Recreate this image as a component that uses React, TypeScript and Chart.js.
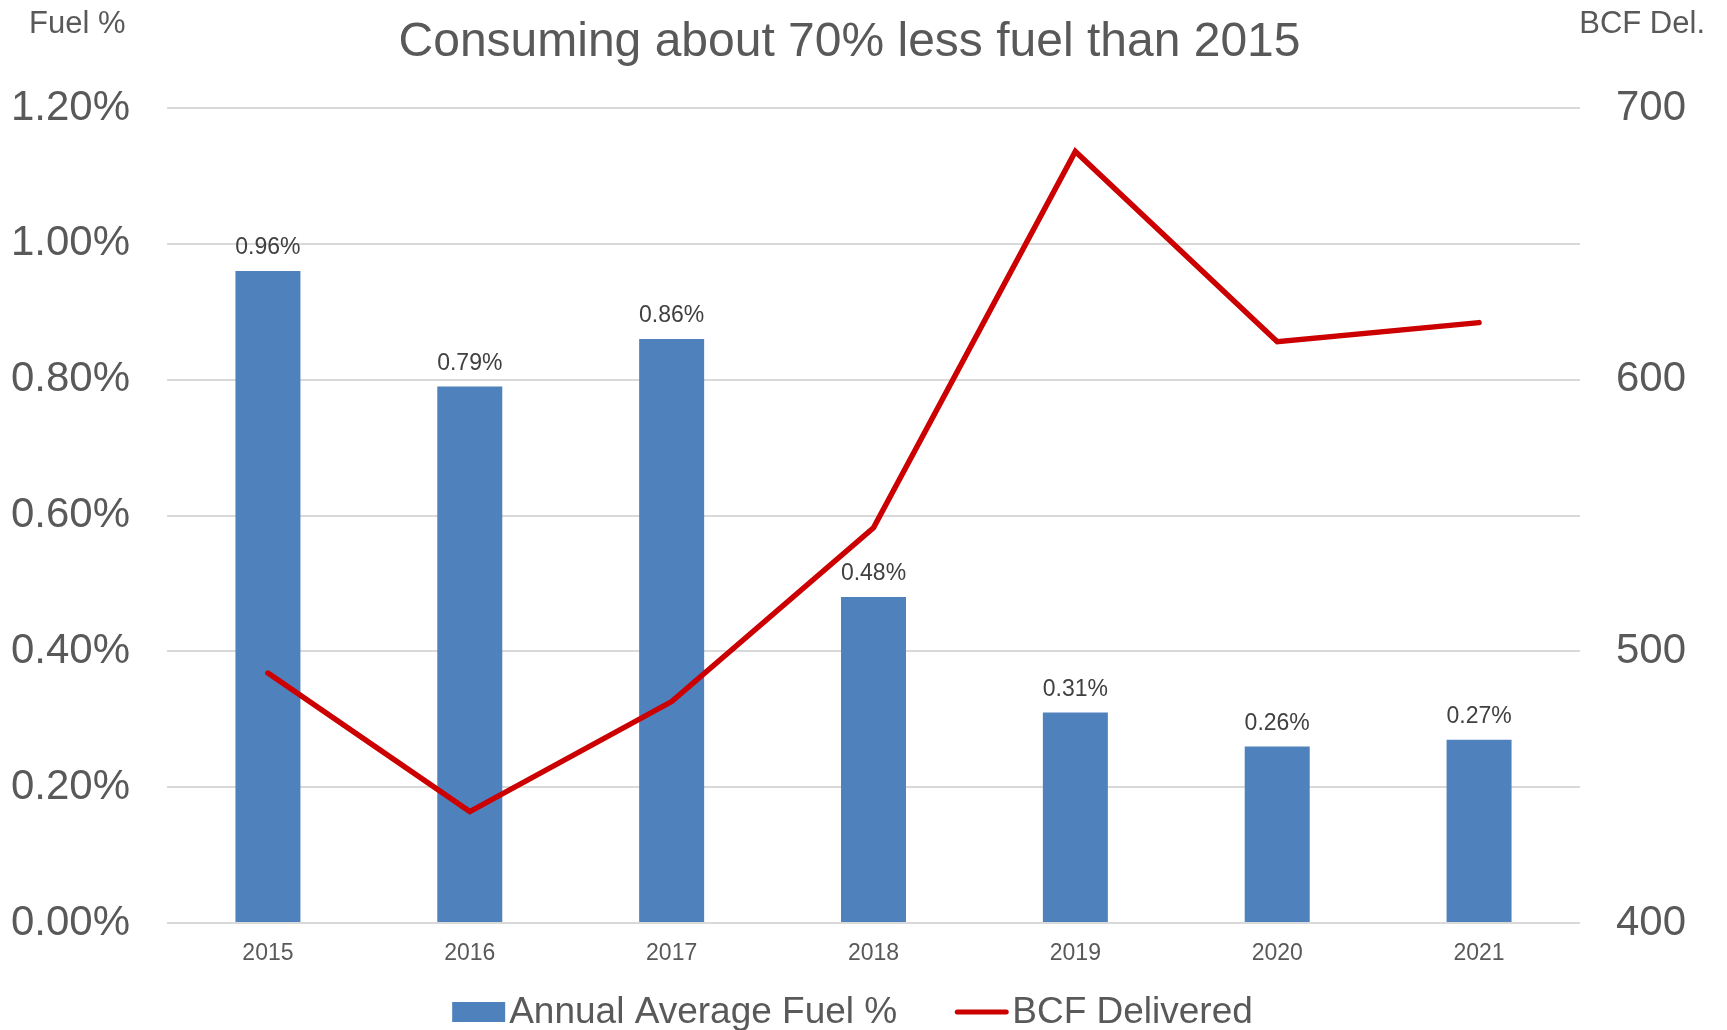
import React, { useEffect, useRef } from 'react';
import { Chart, registerables } from 'chart.js';

Chart.register(...registerables);

// ---- data ----
const years: string[] = ['2015', '2016', '2017', '2018', '2019', '2020', '2021'];
const fuelPct: number[] = [0.96, 0.79, 0.86, 0.48, 0.31, 0.26, 0.27];
const bcfDelivered: number[] = [492, 441, 481.5, 545.5, 684, 614, 621];

const fuelAxisMin = 0;
const fuelAxisMax = 1.2;
const fuelAxisStep = 0.2;
const bcfAxisMin = 400;
const bcfAxisMax = 700;
const bcfAxisStep = 100;

const titleText = 'Consuming about 70% less fuel than 2015';
const leftAxisTitle = 'Fuel %';
const rightAxisTitle = 'BCF Del.';
const barLabel = 'Annual Average Fuel %';
const lineLabel = 'BCF Delivered';

// ---- styles ----
const FONT = '"Liberation Sans", Arial, Helvetica, sans-serif';
const TEXT = '#595959';
const GRID = '#d9d9d9';
const BAR = '#4f81bd';
const LINE = '#cc0000';

const W = 1727;
const H = 1030;

const decorPlugin = {
  id: 'decor',
  afterDatasetsDraw(chart: any) {
    const { ctx } = chart;
    // data labels above bars
    const meta = chart.getDatasetMeta(0);
    ctx.save();
    ctx.font = `23px ${FONT}`;
    ctx.fillStyle = '#404040';
    ctx.textAlign = 'center';
    ctx.textBaseline = 'middle';
    meta.data.forEach((el: any, i: number) => {
      ctx.fillText(`${fuelPct[i].toFixed(2)}%`, el.x, el.y - 23);
    });
    ctx.restore();
  },
  afterDraw(chart: any) {
    const { ctx, chartArea } = chart;
    const cx = (chartArea.left + chartArea.right) / 2;
    ctx.save();
    // title
    ctx.fillStyle = TEXT;
    ctx.font = `48px ${FONT}`;
    ctx.textAlign = 'center';
    ctx.textBaseline = 'middle';
    ctx.fillText(titleText, cx - 24, 43);
    // axis titles
    ctx.font = `31px ${FONT}`;
    ctx.textAlign = 'left';
    ctx.fillText(leftAxisTitle, 29, 24);
    ctx.textAlign = 'right';
    ctx.fillText(rightAxisTitle, chart.width - 22, 24);

    // legend
    ctx.font = `37px ${FONT}`;
    const boxW = 53;
    const gapBox = 4;
    const gapItems = 58;
    const t1 = ctx.measureText(barLabel).width;
    const t2 = ctx.measureText(lineLabel).width;
    const total = boxW + gapBox + t1 + gapItems + boxW + 4 + t2;
    const lcx = cx - 21;
    let x = lcx - total / 2;
    const ly = 1012;
    ctx.fillStyle = BAR;
    ctx.fillRect(x, ly - 10, boxW, 20);
    x += boxW + gapBox;
    ctx.fillStyle = TEXT;
    ctx.textAlign = 'left';
    ctx.textBaseline = 'middle';
    ctx.fillText(barLabel, x, ly + 1);
    x += t1 + gapItems;
    ctx.strokeStyle = LINE;
    ctx.lineWidth = 5;
    ctx.lineCap = 'round';
    ctx.beginPath();
    ctx.moveTo(x + 2, ly);
    ctx.lineTo(x + boxW - 2, ly);
    ctx.stroke();
    x += boxW + 4;
    ctx.fillText(lineLabel, x, ly + 1);
    ctx.restore();
  },
};

export default function App() {
  const canvasRef = useRef<HTMLCanvasElement | null>(null);

  useEffect(() => {
    document.body.style.margin = '0';
    document.body.style.overflow = 'hidden';
    const canvas = canvasRef.current;
    if (!canvas) return;
    const chart = new Chart(canvas, {
      type: 'bar',
      data: {
        labels: years,
        datasets: [
          {
            type: 'bar',
            label: barLabel,
            data: fuelPct,
            backgroundColor: BAR,
            yAxisID: 'y',
            categoryPercentage: 1,
            barPercentage: 0.322,
            order: 1,
          },
          {
            type: 'line',
            label: lineLabel,
            data: bcfDelivered,
            borderColor: LINE,
            backgroundColor: LINE,
            borderWidth: 5.5,
            pointRadius: 0,
            tension: 0,
            borderJoinStyle: 'miter',
            borderCapStyle: 'round',
            yAxisID: 'y1',
            order: 0,
          } as any,
        ],
      },
      options: {
        responsive: false,
        animation: false,
        devicePixelRatio: 1,
        layout: { padding: { top: 108, left: 0, right: 0, bottom: 0 } },
        plugins: {
          legend: { display: false },
          title: { display: false },
          tooltip: { enabled: false },
        },
        scales: {
          x: {
            grid: { display: false, drawTicks: false },
            border: { display: false },
            ticks: {
              color: TEXT,
              font: { family: FONT, size: 23 },
              padding: 17,
            },
            afterFit: (s: any) => {
              s.height = 107;
            },
          },
          y: {
            position: 'left',
            min: fuelAxisMin,
            max: fuelAxisMax,
            grid: { color: GRID, lineWidth: 2, drawTicks: false },
            border: { display: false },
            ticks: {
              stepSize: fuelAxisStep,
              color: TEXT,
              font: { family: FONT, size: 42 },
              padding: 37,
              callback: (v: any) => `${Number(v).toFixed(2)}%`,
            },
            afterFit: (s: any) => {
              s.width = 167;
            },
          },
          y1: {
            position: 'right',
            min: bcfAxisMin,
            max: bcfAxisMax,
            grid: { drawOnChartArea: false, drawTicks: false },
            border: { display: false },
            ticks: {
              stepSize: bcfAxisStep,
              color: TEXT,
              font: { family: FONT, size: 42 },
              padding: 36,
            },
            afterFit: (s: any) => {
              s.width = 147;
            },
          },
        },
      } as any,
      plugins: [decorPlugin],
    });
    return () => chart.destroy();
  }, []);

  return (
    <canvas
      ref={canvasRef}
      width={W}
      height={H}
      style={{ display: 'block', width: W, height: H }}
    />
  );
}
